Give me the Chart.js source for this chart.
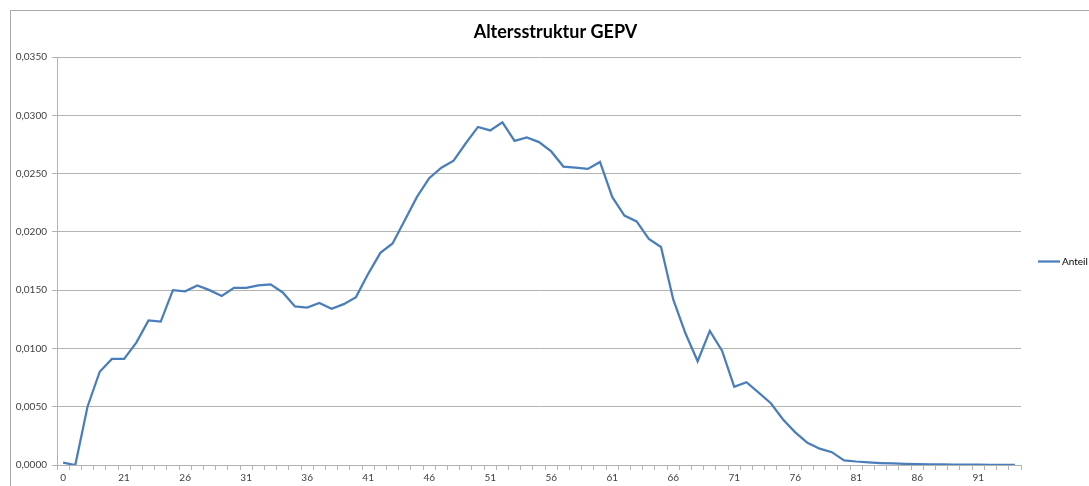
<!DOCTYPE html>
<html>
<head>
<meta charset="utf-8">
<script src="https://cdn.jsdelivr.net/npm/chart.js@4.4.1/dist/chart.umd.min.js"></script>
<style>
html,body{margin:0;padding:0;background:#fff;}
#wrap{width:1089px;height:486px;position:relative;}
</style>
</head>
<body>
<div id="wrap"><canvas id="c" width="1089" height="486"></canvas></div>
<script>
const ages = ['0','17','18','19','20','21','22','23','24','25','26','27','28','29','30','31','32','33','34','35','36','37','38','39','40','41','42','43','44','45','46','47','48','49','50','51','52','53','54','55','56','57','58','59','60','61','62','63','64','65','66','67','68','69','70','71','72','73','74','75','76','77','78','79','80','81','82','83','84','85','86','87','88','89','90','91','92','93','94'];
const anteil = [0.0002,0.0000,0.0050,0.0080,0.0091,0.0091,0.0105,0.0124,0.0123,0.0150,
  0.0149,0.0154,0.0150,0.0145,0.0152,0.0152,0.0154,0.0155,0.0148,0.0136,
  0.0135,0.0139,0.0134,0.0138,0.0144,0.0164,0.0182,0.0190,0.0210,0.0230,
  0.0246,0.0255,0.0261,0.0276,0.0290,0.0287,0.0294,0.0278,0.0281,0.0277,
  0.0269,0.0256,0.0255,0.0254,0.0260,0.0230,0.0214,0.0209,0.0194,0.0187,
  0.0142,0.0113,0.0089,0.0115,0.0098,0.0067,0.0071,0.0062,0.0053,0.0039,
  0.0028,0.0019,0.0014,0.0011,0.0004,0.0003,0.00023,0.00017,0.00013,0.0001,
  0.00008,0.00006,0.00005,0.00004,0.00004,0.00003,0.00002,0.00002,0.00001];
const yMin = 0, yMax = 0.035, yStep = 0.005;
const labelEvery = 5;
const titleText = 'Altersstruktur GEPV';
const seriesName = 'Anteil';
const lineColor = '#4A7EBB';

const frame = {
  id: 'frame',
  beforeDraw(chart) {
    const ctx = chart.ctx;
    ctx.save();
    ctx.fillStyle = '#fff';
    ctx.fillRect(0, 0, chart.width, chart.height);
    ctx.strokeStyle = '#ABABAB';
    ctx.lineWidth = 1;
    ctx.strokeRect(10.5, 10.5, chart.width + 20, chart.height + 20);
    ctx.restore();
  },
  afterDraw(chart) {
    const ctx = chart.ctx;
    const a = chart.chartArea;
    ctx.save();
    // title, centred on the chart frame
    ctx.fillStyle = '#000';
    ctx.font = 'bold 18px Lato';
    ctx.textAlign = 'center';
    ctx.textBaseline = 'middle';
    ctx.fillText(titleText, 555.5, 32);
    // legend entry, right of the plot, vertically centred on it
    const yc = Math.round((a.top + a.bottom) / 2) + 0.5;
    const x0 = a.right + 17;
    ctx.strokeStyle = lineColor;
    ctx.lineWidth = 2.25;
    ctx.beginPath();
    ctx.moveTo(x0, yc);
    ctx.lineTo(x0 + 22, yc);
    ctx.stroke();
    ctx.font = '10px Lato';
    ctx.textAlign = 'left';
    ctx.fillText(chart.data.datasets[0].label, x0 + 24, yc);
    ctx.restore();
  }
};

new Chart(document.getElementById('c'), {
  type: 'line',
  data: {
    labels: ages,
    datasets: [{
      label: seriesName,
      data: anteil,
      borderColor: lineColor,
      backgroundColor: lineColor,
      borderWidth: 2.25,
      pointRadius: 0,
      tension: 0,
      fill: false
    }]
  },
  options: {
    responsive: false,
    animation: false,
    devicePixelRatio: 1,
    layout: { padding: { left: 10, top: 57, right: 68, bottom: 0 } },
    plugins: {
      title: { display: false },
      legend: { display: false },
      tooltip: { enabled: false }
    },
    scales: {
      x: {
        offset: true,
        grid: { display: true, offset: true, drawOnChartArea: false, drawTicks: true, tickLength: 5, color: '#B3B3B3' },
        border: { display: true, color: '#B3B3B3' },
        ticks: {
          autoSkip: false,
          maxRotation: 0,
          minRotation: 0,
          padding: 2,
          color: '#404040',
          font: { family: 'Lato', size: 10 },
          callback: function(v, i) { return i % labelEvery === 0 ? ages[i] : ''; }
        },
        afterFit(s) { s.height = 21; }
      },
      y: {
        min: yMin,
        max: yMax,
        grid: { color: '#B3B3B3', tickLength: 5 },
        border: { display: true, color: '#B3B3B3' },
        ticks: {
          stepSize: yStep,
          padding: 5,
          color: '#404040',
          font: { family: 'Lato', size: 10 },
          callback: function(v) { return v.toFixed(4).replace('.', ','); }
        },
        afterFit(s) { s.width = 47; }
      }
    }
  },
  plugins: [frame]
});
</script>
</body>
</html>
